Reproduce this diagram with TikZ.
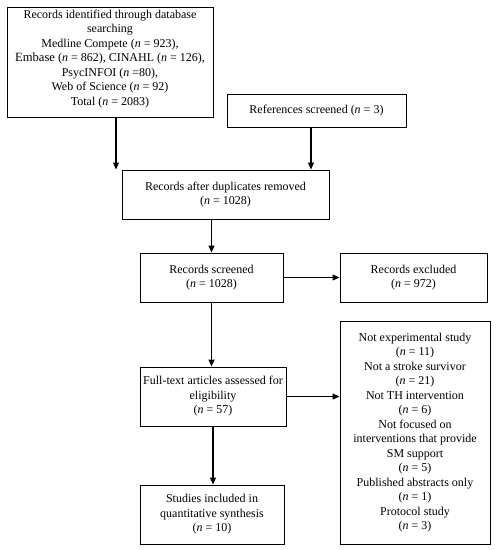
\documentclass[tikz,border=0pt]{standalone}
\usepackage{fontspec}
\setmainfont{Liberation Serif}
\usetikzlibrary{arrows.meta}
\begin{document}
\begin{tikzpicture}[x=1pt,y=-1pt,
  box/.style={draw,line width=1pt,align=center,inner sep=0pt,
    font=\fontsize{12}{14.5}\selectfont},
  arr/.style={line width=1.1pt,-{Triangle[length=7pt,width=6pt]}}]
\useasboundingbox[fill=white] (0,0) rectangle (498,550);
\node[box,minimum width=206,minimum height=110] (b1) at (110,62)
  {Records identified through database\\searching\\Medline Compete (\textit{n} = 923),\\
   {\fontsize{12.6}{14.5}\selectfont Embase} (\textit{n} = 862), CINAHL (\textit{n} = 126),\\
   PsycINFOI (\textit{n} =80),\\Web of Science (\textit{n} = 92)\\Total (\textit{n} = 2083)\rule[-9pt]{0pt}{9pt}};
\node[box,minimum width=179,minimum height=33] (b2) at (316.5,110.5)
  {References screened (\textit{n} = 3)};
\node[box,minimum width=207,minimum height=49] (b3) at (225.5,194.5)
  {Records after duplicates removed\\(\textit{n} = 1028)};
\node[box,minimum width=143,minimum height=49] (b4) at (211.5,277.5)
  {Records screened\\(\textit{n} = 1028)};
\node[box,minimum width=147,minimum height=49] (b5) at (413.5,277.5)
  {Records excluded\\(\textit{n} = 972)};
\node[box,minimum width=150,minimum height=223] (b6) at (415,432.5)
  {Not experimental study\\(\textit{n} = 11)\\Not a stroke survivor\\(\textit{n} = 21)\\
   Not TH intervention\\(\textit{n} = 6)\\Not focused on\\interventions that provide\\
   SM support\\(\textit{n} = 5)\\Published abstracts only\\(\textit{n} = 1)\\
   Protocol study\\(\textit{n} = 3)};
\node[box,minimum width=146,minimum height=59] (b7) at (213,396.5)
  {Full-text articles assessed for\\eligibility\\(\textit{n} = 57)};
\node[box,minimum width=144,minimum height=59] (b8) at (212,514.5)
  {Studies included in\\quantitative synthesis\\(\textit{n} = 10)};
\draw[arr] ([xshift=6pt]b1.south) -- ([xshift=6pt]b1.south |- b3.north);
\draw[arr] ([xshift=-5.5pt]b2.south) -- ([xshift=-5.5pt]b2.south |- b3.north);
\draw[arr] (b4.north |- b3.south) -- (b4.north);
\draw[arr] (b4.east) -- (b5.west |- b4.east);
\draw[arr] (b4.south) -- (b4.south |- b7.north);
\draw[arr] (b7.east) -- (b6.west |- b7.east);
\draw[arr] (b7.south) -- (b7.south |- b8.north);
\end{tikzpicture}
\end{document}
